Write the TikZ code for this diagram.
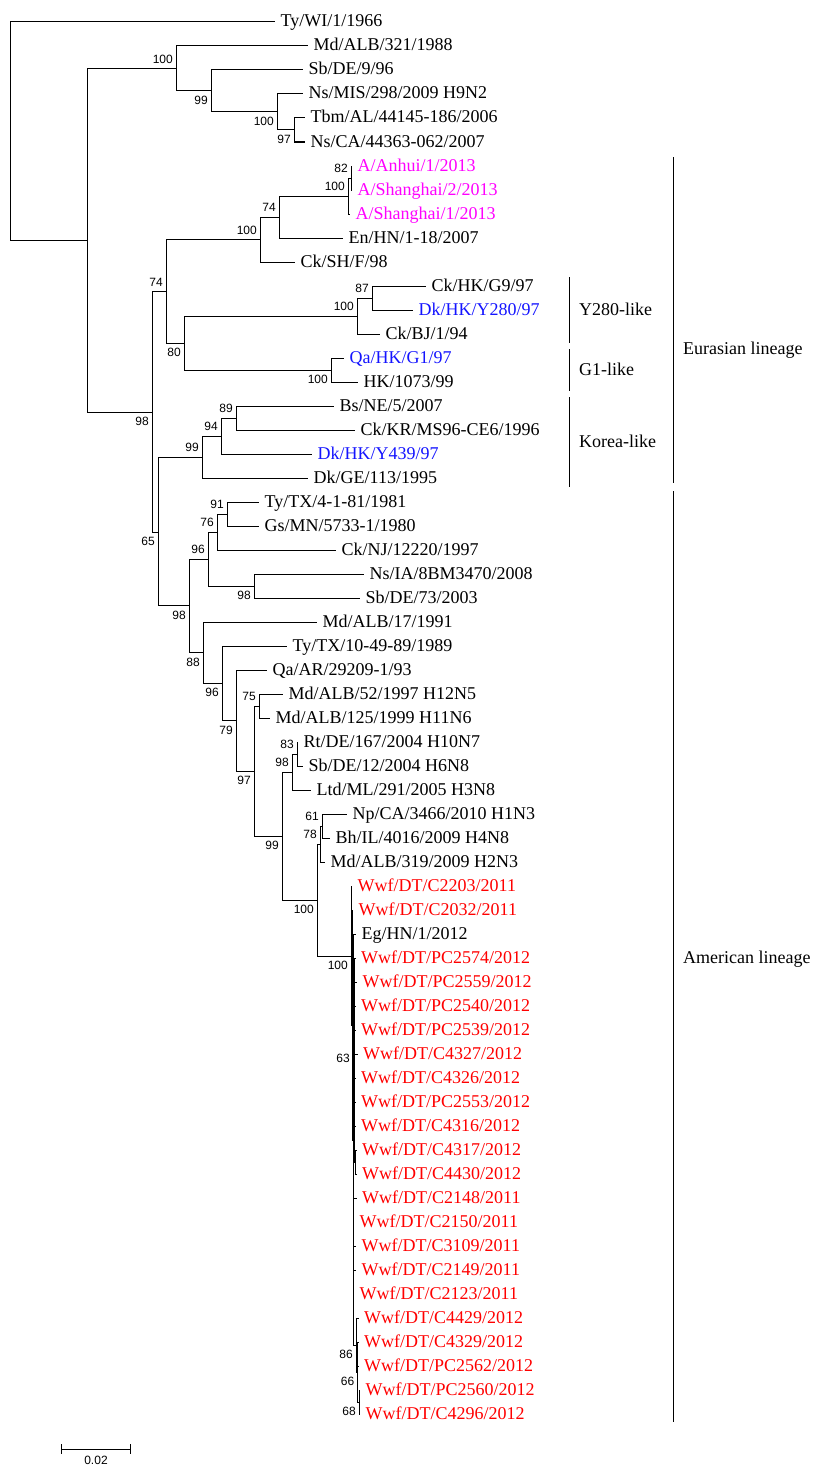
\documentclass[tikz,border=0pt]{standalone}
\usepackage{fontspec}
\setmainfont{Liberation Serif}
\newfontfamily\bsfont{Liberation Sans}
\definecolor{hmag}{RGB}{255,0,255}
\definecolor{hblue}{RGB}{20,20,255}
\definecolor{wwfred}{RGB}{255,0,0}
\usetikzlibrary{positioning}

\begin{document}
\begin{tikzpicture}[x=1pt,y=-1pt,
  branch/.style={line width=1pt,black},
  leaf/.style={anchor=west,inner xsep=5.5pt,inner ysep=0pt,text height=10pt,text depth=0pt,
               font=\fontsize{18}{20}\selectfont},
  wwf/.style={leaf,text=wwfred},
  bsa/.style={anchor=south east,inner xsep=3pt,inner ysep=5pt,font=\bsfont\fontsize{12}{14}\selectfont},
  bsb/.style={bsa,anchor=north east},
  grp/.style={anchor=west,inner sep=0pt,text height=10pt,text depth=0pt,font=\fontsize{18}{20}\selectfont}]
  \useasboundingbox (0,0) rectangle (829,1477);
  %% Leaves
  \node[leaf] (t01) at (275,22) {Ty/WI/1/1966};
  \node[leaf] (t02) at (308,46) {Md/ALB/321/1988};
  \node[leaf] (t03) at (303,70) {Sb/DE/9/96};
  \node[leaf] (t04) at (303,94) {Ns/MIS/298/2009 H9N2};
  \node[leaf] (t05) at (305,118) {Tbm/AL/44145-186/2006};
  \node[leaf] (t06) at (305,142) {Ns/CA/44363-062/2007};
  \node[leaf,text=hmag] (t07) at (352,166) {A/Anhui/1/2013};
  \node[leaf,text=hmag] (t08) at (352,190) {A/Shanghai/2/2013};
  \node[leaf,text=hmag] (t09) at (350,214) {A/Shanghai/1/2013};
  \node[leaf] (t10) at (343,238) {En/HN/1-18/2007};
  \node[leaf] (t11) at (295,262) {Ck/SH/F/98};
  \node[leaf] (t12) at (426,286) {Ck/HK/G9/97};
  \node[leaf,text=hblue] (t13) at (413,310) {Dk/HK/Y280/97};
  \node[leaf] (t14) at (380,334) {Ck/BJ/1/94};
  \node[leaf,text=hblue] (t15) at (344,358) {Qa/HK/G1/97};
  \node[leaf] (t16) at (358,382) {HK/1073/99};
  \node[leaf] (t17) at (334,406) {Bs/NE/5/2007};
  \node[leaf] (t18) at (355,430) {Ck/KR/MS96-CE6/1996};
  \node[leaf,text=hblue] (t19) at (312,454) {Dk/HK/Y439/97};
  \node[leaf] (t20) at (308,478) {Dk/GE/113/1995};
  \node[leaf] (t21) at (259,502) {Ty/TX/4-1-81/1981};
  \node[leaf] (t22) at (259,526) {Gs/MN/5733-1/1980};
  \node[leaf] (t23) at (336,550) {Ck/NJ/12220/1997};
  \node[leaf] (t24) at (364,574) {Ns/IA/8BM3470/2008};
  \node[leaf] (t25) at (360,598) {Sb/DE/73/2003};
  \node[leaf] (t26) at (317,622) {Md/ALB/17/1991};
  \node[leaf] (t27) at (287,646) {Ty/TX/10-49-89/1989};
  \node[leaf] (t28) at (267,670) {Qa/AR/29209-1/93};
  \node[leaf] (t29) at (283,694) {Md/ALB/52/1997 H12N5};
  \node[leaf] (t30) at (270,718) {Md/ALB/125/1999 H11N6};
  \node[leaf] (t31) at (298,742) {Rt/DE/167/2004 H10N7};
  \node[leaf] (t32) at (303,766) {Sb/DE/12/2004 H6N8};
  \node[leaf] (t33) at (311,790) {Ltd/ML/291/2005 H3N8};
  \node[leaf] (t34) at (347,814) {Np/CA/3466/2010 H1N3};
  \node[leaf] (t35) at (330,838) {Bh/IL/4016/2009 H4N8};
  \node[leaf] (t36) at (325,862) {Md/ALB/319/2009 H2N3};
  \node[wwf] (t37) at (352,886) {Wwf/DT/C2203/2011};
  \node[wwf] (t38) at (353,910) {Wwf/DT/C2032/2011};
  \node[leaf] (t39) at (356,934) {Eg/HN/1/2012};
  \node[wwf] (t40) at (355.5,958) {Wwf/DT/PC2574/2012};
  \node[wwf] (t41) at (357,982) {Wwf/DT/PC2559/2012};
  \node[wwf] (t42) at (355.5,1006) {Wwf/DT/PC2540/2012};
  \node[wwf] (t43) at (355.5,1030) {Wwf/DT/PC2539/2012};
  \node[wwf] (t44) at (357.5,1054) {Wwf/DT/C4327/2012};
  \node[wwf] (t45) at (355.5,1078) {Wwf/DT/C4326/2012};
  \node[wwf] (t46) at (355.5,1102) {Wwf/DT/PC2553/2012};
  \node[wwf] (t47) at (355.5,1126) {Wwf/DT/C4316/2012};
  \node[wwf] (t48) at (356.5,1150) {Wwf/DT/C4317/2012};
  \node[wwf] (t49) at (356.5,1174) {Wwf/DT/C4430/2012};
  \node[wwf] (t50) at (356.5,1198) {Wwf/DT/C2148/2011};
  \node[wwf] (t51) at (354,1222) {Wwf/DT/C2150/2011};
  \node[wwf] (t52) at (356,1246) {Wwf/DT/C3109/2011};
  \node[wwf] (t53) at (356,1270) {Wwf/DT/C2149/2011};
  \node[wwf] (t54) at (354,1294) {Wwf/DT/C2123/2011};
  \node[wwf] (t55) at (358.5,1318) {Wwf/DT/C4429/2012};
  \node[wwf] (t56) at (358.5,1342) {Wwf/DT/C4329/2012};
  \node[wwf] (t57) at (358.5,1366) {Wwf/DT/PC2562/2012};
  \node[wwf] (t58) at (360,1390) {Wwf/DT/PC2560/2012};
  \node[wwf] (t59) at (360,1414) {Wwf/DT/C4296/2012};
  %% Internal nodes
  \coordinate (root) at (10,131);
  \coordinate (nA) at (87,240.5);
  \coordinate (nB) at (176,68.5);
  \coordinate (nC) at (211,91);
  \coordinate (nD) at (277,112);
  \coordinate (nE) at (294,130);
  \coordinate (nF) at (152,412);
  \coordinate (nG) at (166,291.5);
  \coordinate (nH) at (260,239.5);
  \coordinate (nI) at (279,217);
  \coordinate (nJ) at (348,196);
  \coordinate (nK) at (351,178);
  \coordinate (nL) at (184,343);
  \coordinate (nM) at (357,316);
  \coordinate (nN) at (372,298);
  \coordinate (nO) at (331,370);
  \coordinate (nP) at (158,532);
  \coordinate (nQ) at (202,457);
  \coordinate (nR) at (221,436);
  \coordinate (nS) at (236,418);
  \coordinate (nT) at (189,605.8);
  \coordinate (nU) at (208,559);
  \coordinate (nV) at (217,532);
  \coordinate (nW) at (227,514);
  \coordinate (nX) at (254,586);
  \coordinate (nY) at (203,652.6);
  \coordinate (nZ) at (222,683.2);
  \coordinate (nAA) at (236,720.5);
  \coordinate (nAB) at (254,771);
  \coordinate (nAC) at (259,706);
  \coordinate (nAD) at (282,836);
  \coordinate (nAE) at (292,772);
  \coordinate (nAF) at (297,754);
  \coordinate (nAG) at (317,900);
  \coordinate (n78) at (320,844);
  \coordinate (n61) at (322,826);
  \coordinate (nAH) at (351,956);
  \coordinate (nZ1) at (352.2,1025);
  \coordinate (nZ2) at (353.4,1140);
  \coordinate (n63) at (354.6,1060);
  \coordinate (nZ3) at (355.8,1162);
  \coordinate (n86) at (356,1345);
  \coordinate (n66) at (357.5,1372);
  \coordinate (n68) at (359,1402);
  %% Branches
  \foreach \p/\c in {root/t01,root/nA,nA/nB,nA/nF,nB/t02,nB/nC,nC/t03,nC/nD,nD/t04,nD/nE,
      nE/t05,nE/t06,nF/nG,nF/nP,nG/nH,nG/nL,nH/nI,nH/t11,nI/nJ,nI/t10,nJ/nK,nJ/t09,
      nK/t07,nK/t08,nL/nM,nL/nO,nM/nN,nM/t14,nN/t12,nN/t13,nO/t15,nO/t16,
      nP/nQ,nP/nT,nQ/nR,nQ/t20,nR/nS,nR/t19,nS/t17,nS/t18,
      nT/nU,nT/nY,nU/nV,nU/nX,nV/nW,nV/t23,nW/t21,nW/t22,nX/t24,nX/t25,
      nY/t26,nY/nZ,nZ/t27,nZ/nAA,nAA/t28,nAA/nAB,nAB/nAC,nAB/nAD,nAC/t29,nAC/t30,
      nAD/nAE,nAD/nAG,nAE/nAF,nAE/t33,nAF/t31,nAF/t32,nAG/n78,nAG/nAH,
      n78/n61,n78/t36,n61/t34,n61/t35,nAH/t37,nAH/nZ1,nZ1/t38,nZ1/nZ2,
      nZ2/t39,nZ2/n63,nZ2/t50,nZ2/t51,nZ2/t52,nZ2/t53,nZ2/t54,nZ2/n86,
      n63/t40,n63/t41,n63/t42,n63/t43,n63/t44,n63/t45,n63/t46,n63/t47,n63/nZ3,
      nZ3/t48,nZ3/t49,n86/t55,n86/n66,n66/t56,n66/t57,n66/n68,n68/t58,n68/t59}
    \draw[branch] (\p) |- (\c);
  %% Bootstrap values
  \foreach \n/\v in {nB/100,nG/74,nH/100,nI/74,nJ/100,nK/82,nM/100,nN/87,nQ/99,nR/94,
      nS/89,nU/96,nV/76,nW/91,nAC/75,nAE/98,nAF/83,n78/78,n61/61}
    \node[bsa] (b\n) at (\n) {\v};
  \foreach \n/\v in {nC/99,nD/100,nE/97,nF/98,nL/80,nO/100,nP/65,nT/98,nX/98,nY/88,
      nZ/96,nAA/79,nAB/97,nAD/99,nAG/100,nAH/100,n86/86,n66/66,n68/68}
    \node[bsb] (b\n) at (\n) {\v};
  \node[bsa,anchor=east,inner ysep=0pt] (bn63) at (353,1058) {63};
  %% Groups
  \draw[branch] (569,277) -- (569,343);
  \draw[branch] (569,349) -- (569,391);
  \draw[branch] (569,397) -- (569,487);
  \draw[branch] (673,157) -- (673,483);
  \draw[branch] (673,491) -- (673,1422);
  \node[grp] (gy280) at (579,310) {Y280-like};
  \node[grp] (gg1) at (579,370) {G1-like};
  \node[grp] (gkor) at (579,442) {Korea-like};
  \node[grp] (geur) at (683,349) {Eurasian lineage};
  \node[grp] (gam) at (683,958) {American lineage};
  %% Scale bar
  \draw[branch] (61,1449) -- (130,1449);
  \draw[branch] (61,1444) -- (61,1454);
  \draw[branch] (130,1444) -- (130,1454);
  \node[bsa,anchor=center,inner sep=0pt] (scale) at (96,1460) {0.02};
\end{tikzpicture}
\end{document}
